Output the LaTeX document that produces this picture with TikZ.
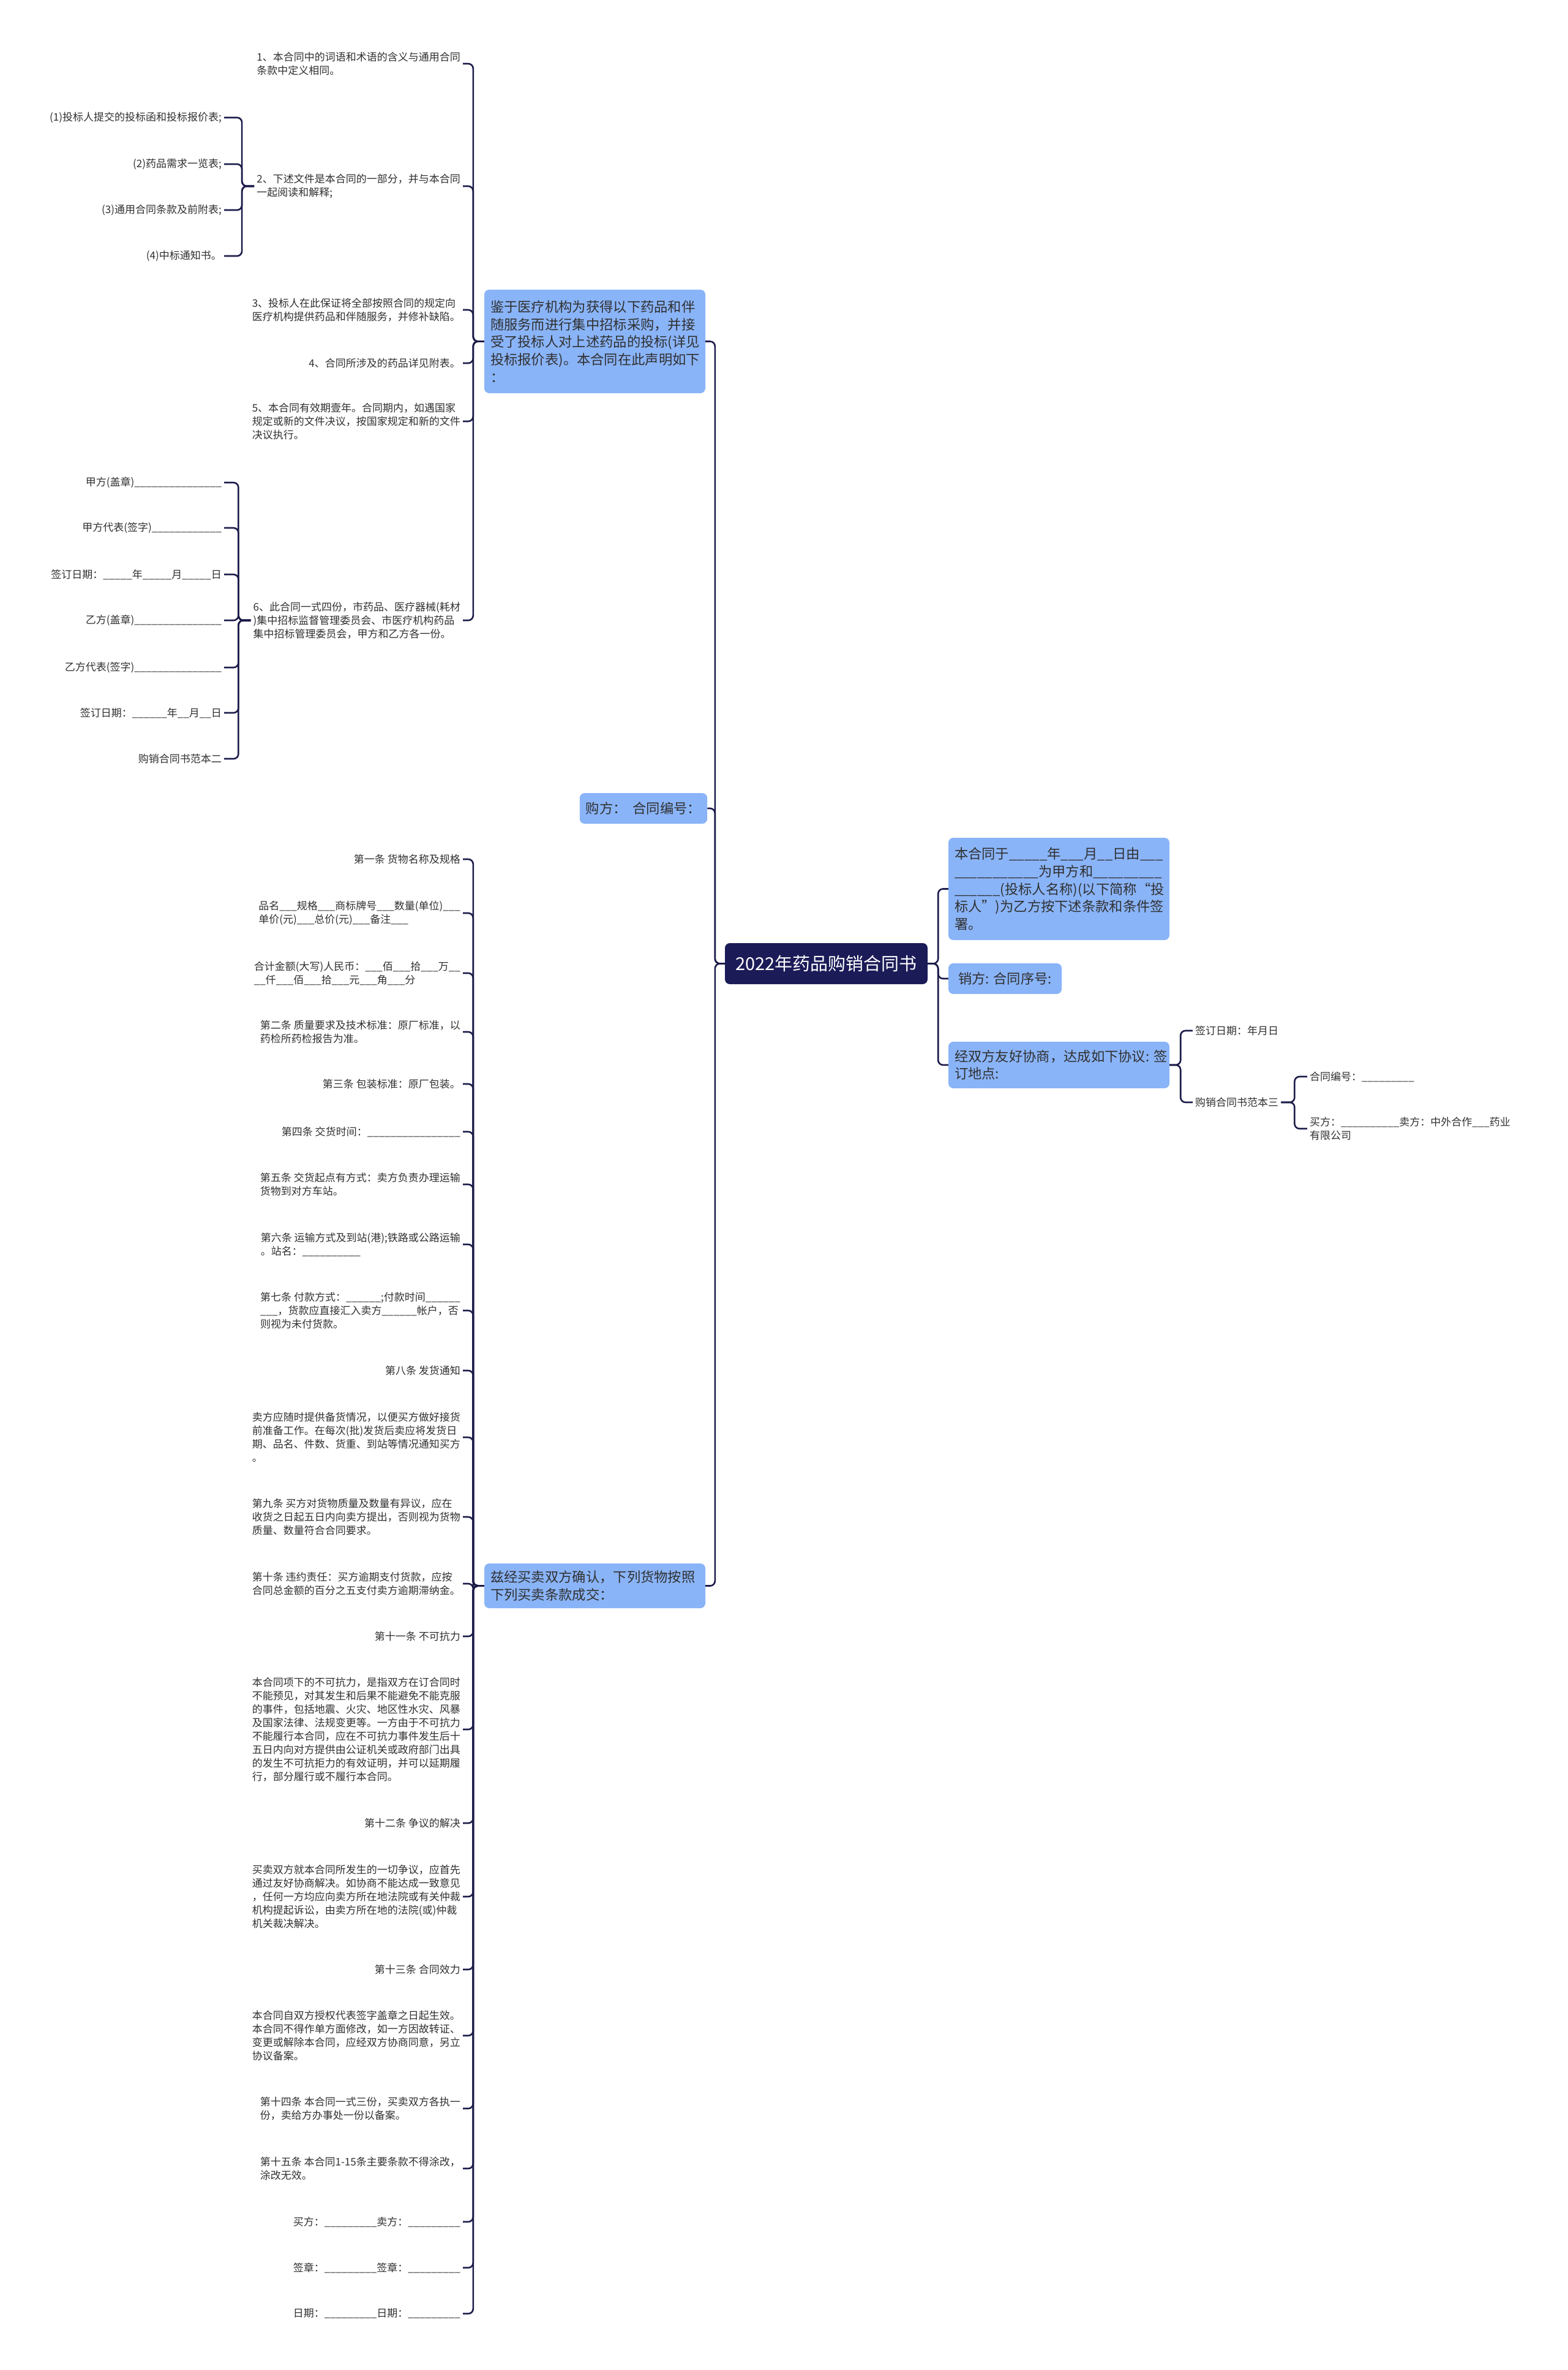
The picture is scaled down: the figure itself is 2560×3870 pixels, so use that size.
\documentclass[tikz,border=0pt]{standalone}
\usepackage{fontspec}
\setmainfont{Noto Sans CJK SC}
\usetikzlibrary{positioning}
\definecolor{mapnavy}{RGB}{27,27,88}
\definecolor{linknavy}{RGB}{28,28,74}
\definecolor{boxblue}{RGB}{138,180,248}
\definecolor{textdark}{RGB}{48,48,48}
\tikzset{
  rootbox/.style={rounded corners=8pt, fill=mapnavy, text=white, inner sep=0pt,
                  minimum width=331pt, minimum height=67pt, font=\fontsize{29}{34}\selectfont},
  mbox/.style={rounded corners=8pt, fill=boxblue, text=textdark, inner xsep=10pt, inner ysep=6pt,
               align=left, font=\fontsize{22.3}{28.8}\selectfont},
  leaf/.style={text=textdark, inner sep=4pt, align=left, font=\fontsize{17}{22}\selectfont},
  link/.style={draw=linknavy, line width=2.6pt, rounded corners=8pt},
}

\begin{document}
\begin{tikzpicture}[x=1pt, y=-1pt]
    \path[use as bounding box, fill=white] (0,0) rectangle (2560,3870);

    \node[rootbox] (root) at (1349.5,1573.5) {2022年药品购销合同书};

    \node[mbox, text width=341pt, minimum height=169pt] (gist) at (971.5,557.5)
      {鉴于医疗机构为获得以下药品和伴\\随服务而进行集中招标采购，并接\\受了投标人对上述药品的投标(详见\\投标报价表)。本合同在此声明如下\\：};
    \node[mbox, minimum width=202pt, minimum height=50pt] (buyer) at (1051,1320) {购方：\ \ 合同编号：};
    \node[mbox, text width=341pt, minimum height=73pt] (terms) at (971.5,2589.5)
      {兹经买卖双方确认，下列货物按照\\下列买卖条款成交：};

    \node[mbox, text width=341pt, minimum height=167pt] (intro) at (1729.5,1451.5)
      {本合同于\_\_\_\_\_年\_\_\_月\_\_日由\_\_\_\\\_\_\_\_\_\_\_\_\_\_\_为甲方和\_\_\_\_\_\_\_\_\_\\\_\_\_\_\_\_(投标人名称)(以下简称“投\\标人”)为乙方按下述条款和条件签\\署。};
    \node[mbox, minimum width=185pt, minimum height=50pt] (seller) at (1641.5,1598) {销方: 合同序号:};
    \node[mbox, text width=341pt, minimum height=76pt] (agree) at (1729.5,1739)
      {经双方友好协商，达成如下协议:~签\\订地点:};

    \node[leaf, anchor=west] (signdate) at (1948,1683) {签订日期：年月日};
    \node[leaf, anchor=west] (sample3) at (1948,1800) {购销合同书范本三};
    \node[leaf, anchor=west] (contno) at (2135,1758) {合同编号：\_\_\_\_\_\_\_\_\_};
    \node[leaf, anchor=west] (parties) at (2135,1843)
      {买方：\_\_\_\_\_\_\_\_\_\_卖方：中外合作\_\_\_药业\\有限公司};

    \node[leaf, anchor=east] (g1) at (756,104) {1、本合同中的词语和术语的含义与通用合同\\条款中定义相同。};
    \node[leaf, anchor=east] (g2) at (756,304) {2、下述文件是本合同的一部分，并与本合同\\一起阅读和解释;};
    \node[leaf, anchor=east] (g3) at (756,506) {3、投标人在此保证将全部按照合同的规定向\\医疗机构提供药品和伴随服务，并修补缺陷。};
    \node[leaf, anchor=east] (g4) at (756,593) {4、合同所涉及的药品详见附表。};
    \node[leaf, anchor=east] (g5) at (756,688) {5、本合同有效期壹年。合同期内，如遇国家\\规定或新的文件决议，按国家规定和新的文件\\决议执行。};
    \node[leaf, anchor=east] (g6) at (756,1013) {6、此合同一式四份，市药品、医疗器械(耗材\\)集中招标监督管理委员会、市医疗机构药品\\集中招标管理委员会，甲方和乙方各一份。};

    \node[leaf, anchor=east] (doc1) at (366,192) {(1)投标人提交的投标函和投标报价表;};
    \node[leaf, anchor=east] (doc2) at (366,268) {(2)药品需求一览表;};
    \node[leaf, anchor=east] (doc3) at (366,343) {(3)通用合同条款及前附表;};
    \node[leaf, anchor=east] (doc4) at (366,418) {(4)中标通知书。};

    \node[leaf, anchor=east] (sig1) at (366,788) {甲方(盖章)\_\_\_\_\_\_\_\_\_\_\_\_\_\_\_};
    \node[leaf, anchor=east] (sig2) at (366,862) {甲方代表(签字)\_\_\_\_\_\_\_\_\_\_\_\_};
    \node[leaf, anchor=east] (sig3) at (366,938) {签订日期：\_\_\_\_\_年\_\_\_\_\_月\_\_\_\_\_日};
    \node[leaf, anchor=east] (sig4) at (366,1013) {乙方(盖章)\_\_\_\_\_\_\_\_\_\_\_\_\_\_\_};
    \node[leaf, anchor=east] (sig5) at (366,1090) {乙方代表(签字)\_\_\_\_\_\_\_\_\_\_\_\_\_\_\_};
    \node[leaf, anchor=east] (sig6) at (366,1164) {签订日期：\_\_\_\_\_\_年\_\_月\_\_日};
    \node[leaf, anchor=east] (sig7) at (366,1239) {购销合同书范本二};

    \node[leaf, anchor=east] (t1) at (756,1403) {第一条 货物名称及规格};
    \node[leaf, anchor=east] (t2) at (756,1491) {品名\_\_\_规格\_\_\_商标牌号\_\_\_数量(单位)\_\_\_\\单价(元)\_\_\_总价(元)\_\_\_备注\_\_\_};
    \node[leaf, anchor=east] (t3) at (756,1589) {合计金额(大写)人民币：\_\_\_佰\_\_\_拾\_\_\_万\_\_\\\_\_仟\_\_\_佰\_\_\_拾\_\_\_元\_\_\_角\_\_\_分};
    \node[leaf, anchor=east] (t4) at (756,1685) {第二条 质量要求及技术标准：原厂标准，以\\药检所药检报告为准。};
    \node[leaf, anchor=east] (t5) at (756,1770) {第三条 包装标准：原厂包装。};
    \node[leaf, anchor=east] (t6) at (756,1848) {第四条 交货时间：\_\_\_\_\_\_\_\_\_\_\_\_\_\_\_\_};
    \node[leaf, anchor=east] (t7) at (756,1934) {第五条 交货起点有方式：卖方负责办理运输\\货物到对方车站。};
    \node[leaf, anchor=east] (t8) at (756,2032) {第六条 运输方式及到站(港);铁路或公路运输\\。站名：\_\_\_\_\_\_\_\_\_\_};
    \node[leaf, anchor=east] (t9) at (756,2140) {第七条 付款方式：\_\_\_\_\_\_;付款时间\_\_\_\_\_\_\\\_\_\_，货款应直接汇入卖方\_\_\_\_\_\_帐户，否\\则视为未付货款。};
    \node[leaf, anchor=east] (t10) at (756,2238) {第八条 发货通知};
    \node[leaf, anchor=east] (t11) at (756,2347) {卖方应随时提供备货情况，以便买方做好接货\\前准备工作。在每次(批)发货后卖应将发货日\\期、品名、件数、货重、到站等情况通知买方\\。};
    \node[leaf, anchor=east] (t12) at (756,2477) {第九条 买方对货物质量及数量有异议，应在\\收货之日起五日内向卖方提出，否则视为货物\\质量、数量符合合同要求。};
    \node[leaf, anchor=east] (t13) at (756,2586) {第十条 违约责任：买方逾期支付货款，应按\\合同总金额的百分之五支付卖方逾期滞纳金。};
    \node[leaf, anchor=east] (t14) at (756,2672) {第十一条 不可抗力};
    \node[leaf, anchor=east] (t15) at (756,2824) {本合同项下的不可抗力，是指双方在订合同时\\不能预见，对其发生和后果不能避免不能克服\\的事件，包括地震、火灾、地区性水灾、风暴\\及国家法律、法规变更等。一方由于不可抗力\\不能履行本合同，应在不可抗力事件发生后十\\五日内向对方提供由公证机关或政府部门出具\\的发生不可抗拒力的有效证明，并可以延期履\\行，部分履行或不履行本合同。};
    \node[leaf, anchor=east] (t16) at (756,2977) {第十二条 争议的解决};
    \node[leaf, anchor=east] (t17) at (756,3097) {买卖双方就本合同所发生的一切争议，应首先\\通过友好协商解决。如协商不能达成一致意见\\，任何一方均应向卖方所在地法院或有关仲裁\\机构提起诉讼，由卖方所在地的法院(或)仲裁\\机关裁决解决。};
    \node[leaf, anchor=east] (t18) at (756,3216) {第十三条 合同效力};
    \node[leaf, anchor=east] (t19) at (756,3324) {本合同自双方授权代表签字盖章之日起生效。\\本合同不得作单方面修改，如一方因故转证、\\变更或解除本合同，应经双方协商同意，另立\\协议备案。};
    \node[leaf, anchor=east] (t20) at (756,3443) {第十四条 本合同一式三份，买卖双方各执一\\份，卖给方办事处一份以备案。};
    \node[leaf, anchor=east] (t21) at (756,3541) {第十五条 本合同1-15条主要条款不得涂改，\\涂改无效。};
    \node[leaf, anchor=east] (t22) at (756,3628) {买方：\_\_\_\_\_\_\_\_\_卖方：\_\_\_\_\_\_\_\_\_};
    \node[leaf, anchor=east] (t23) at (756,3703) {签章：\_\_\_\_\_\_\_\_\_签章：\_\_\_\_\_\_\_\_\_};
    \node[leaf, anchor=east] (t24) at (756,3778) {日期：\_\_\_\_\_\_\_\_\_日期：\_\_\_\_\_\_\_\_\_};

    \foreach \n in {gist,buyer,terms}
      \draw[link] (root.west) -- ++(-16,0) |- (\n.east);
    \foreach \n in {intro,seller,agree}
      \draw[link] (root.east) -- ++(17,0) |- (\n.west);
    \foreach \n in {signdate,sample3}
      \draw[link] (agree.east) -- ++(18,0) |- (\n.west);
    \foreach \n in {contno,parties}
      \draw[link] (sample3.east) -- ++(22,0) |- (\n.west);
    \foreach \n in {g1,g2,g3,g4,g5,g6}
      \draw[link] (gist.west) -- ++(-18,0) |- (\n.east);
    \foreach \n in {doc1,doc2,doc3,doc4}
      \draw[link] (g2.west) -- ++(-20,0) |- (\n.east);
    \foreach \n in {sig1,sig2,sig3,sig4,sig5,sig6,sig7}
      \draw[link] (g6.west) -- ++(-20,0) |- (\n.east);
    \foreach \i in {1,...,24}
      \draw[link] (terms.west) -- ++(-18,0) |- (t\i.east);
\end{tikzpicture}
\end{document}
